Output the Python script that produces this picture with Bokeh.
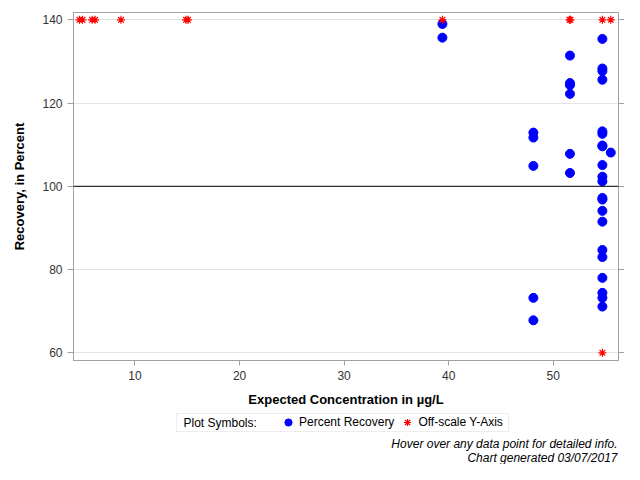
from bokeh.plotting import figure
from bokeh.layouts import column
from bokeh.models import Range1d, LinearAxis, Span, Legend, LegendItem, Label, FixedTicker, BoxAnnotation
from bokeh.embed import file_html
from bokeh.resources import INLINE

# Percent recovery points (expected concentration, recovery %)
rec_x = [39.4, 39.4,
         48.1, 48.1, 48.1, 48.1, 48.1,
         51.6, 51.6, 51.6, 51.6, 51.6, 51.6,
         54.7, 54.7, 54.7, 54.7, 54.7, 54.7, 54.7, 54.7, 54.7, 54.7, 54.7,
         54.7, 54.7, 54.7, 54.7, 54.7, 54.7, 54.7, 54.7, 54.7, 54.7,
         55.5]
rec_y = [139.0, 135.7,
         112.9, 111.7, 104.9, 73.2, 67.8,
         131.4, 124.8, 124.3, 122.2, 107.8, 103.2,
         135.4, 128.3, 127.7, 125.6, 113.2, 112.6, 109.8, 109.6, 105.1, 102.3, 101.2,
         97.2, 96.8, 94.1, 91.5, 84.7, 83.0, 78.0, 74.4, 73.2, 71.1,
         108.1]

# Off-scale points (plotted at axis limits)
off_x = [4.69, 4.98, 5.89, 6.18, 8.66, 14.88, 15.07, 39.4, 51.55, 51.65, 54.7, 55.5, 54.7]
off_y = [140, 140, 140, 140, 140, 140, 140, 140, 140, 140, 140, 140, 60]

x_ticks = [10, 20, 30, 40, 50]
y_ticks = [60, 80, 100, 120, 140]
reference_level = 100
legend_title = "Plot Symbols:"
series_names = ["Percent Recovery", "Off-scale Y-Axis"]
footnotes = ["Hover over any data point for detailed info.", "Chart generated 03/07/2017"]

FONT = "Liberation Sans"
FRAME = "#a0a0a0"
W = 624
LEFT, RIGHT = 73, 6

p = figure(width=W, height=410, output_backend="svg", toolbar_location=None,
           x_range=Range1d(4.12, 56.24), y_range=Range1d(58.15, 141.75),
           min_border_left=LEFT, min_border_right=RIGHT, min_border_top=12, min_border_bottom=50,
           x_axis_label="Expected Concentration in µg/L", y_axis_label="Recovery, in Percent")

p.outline_line_color = FRAME
p.background_fill_color = "white"
p.border_fill_color = "white"
p.xgrid.visible = False
p.ygrid.ticker = FixedTicker(ticks=y_ticks)
p.ygrid.grid_line_color = "#e4e4e4"

for ax, ticks in ((p.xaxis[0], x_ticks), (p.yaxis[0], y_ticks)):
    ax.ticker = FixedTicker(ticks=ticks)
    ax.axis_line_color = FRAME
    ax.major_tick_line_color = FRAME
    ax.major_tick_in = 0
    ax.major_tick_out = 5
    ax.minor_tick_line_color = None
    ax.major_label_text_font = FONT
    ax.major_label_text_font_size = "12px"
    ax.major_label_text_color = "#333333"
    ax.major_label_standoff = 5
    ax.axis_label_text_font = FONT
    ax.axis_label_text_font_size = "13px"
    ax.axis_label_text_font_style = "bold"
    ax.axis_label_text_color = "black"

p.yaxis[0].major_tick_out = 6
p.yaxis[0].axis_label_standoff = 12
p.xaxis[0].axis_label_standoff = 9

right = LinearAxis(ticker=FixedTicker(ticks=y_ticks), axis_line_color=FRAME,
                   major_tick_line_color=FRAME, major_tick_in=0, major_tick_out=6,
                   minor_tick_line_color=None,
                   major_label_overrides={t: "" for t in y_ticks},
                   major_label_text_color=None, major_label_standoff=0)
p.add_layout(right, "right")

p.add_layout(Span(location=reference_level, dimension="width", line_color="black", line_width=1))

circle_style = dict(marker="circle", size=9, fill_color="blue", line_color="blue")
star_style = dict(marker="asterisk", size=8, line_color="red", line_width=1.2)
p.scatter(rec_x, rec_y, **circle_style)
p.scatter(off_x, off_y, **star_style)

# footer: legend + footnotes (its frame is aligned with the main frame; x, y in page pixels)
FH = 54
f = figure(width=W, height=FH, output_backend="svg", toolbar_location=None,
           x_range=Range1d(LEFT, W - RIGHT), y_range=Range1d(0, FH),
           x_axis_type=None, y_axis_type=None,
           min_border_left=LEFT, min_border_right=RIGHT, min_border_top=0, min_border_bottom=0)
f.outline_line_color = None
f.grid.visible = False
f.background_fill_color = "white"
f.border_fill_color = "white"

f.add_layout(BoxAnnotation(left=176, right=508, bottom=FH - 21, top=FH - 3,
                           fill_color="white", fill_alpha=1, line_color="#c4c4c4", line_width=1))
f.add_layout(Label(x=183, y=FH - 12, text=legend_title, text_align="left", text_baseline="middle",
                   text_font=FONT, text_font_size="12px", text_color="black"))

# same data, out of the footer's view: only used for the legend glyphs
g1 = f.scatter(rec_x, rec_y, **circle_style)
g2 = f.scatter(off_x, off_y, **star_style)

legend = Legend(items=[LegendItem(label=series_names[0], renderers=[g1]),
                       LegendItem(label=series_names[1], renderers=[g2])],
                orientation="horizontal", location=(279 - LEFT, FH - 21),
                label_text_font=FONT, label_text_font_size="12px", label_text_color="black",
                label_standoff=2, spacing=4, padding=0, margin=0,
                glyph_width=18, glyph_height=18, label_height=18,
                border_line_color=None, background_fill_alpha=0)
f.add_layout(legend)

for text, yy in zip(footnotes, (FH - 33, FH - 47)):
    f.add_layout(Label(x=W - RIGHT - 1, y=yy, text=text, text_align="right", text_baseline="middle",
                       text_font=FONT, text_font_size="12px", text_font_style="italic",
                       text_color="black"))

layout = column(p, f, spacing=0)
open("out.html", "w").write(file_html(layout, INLINE))
